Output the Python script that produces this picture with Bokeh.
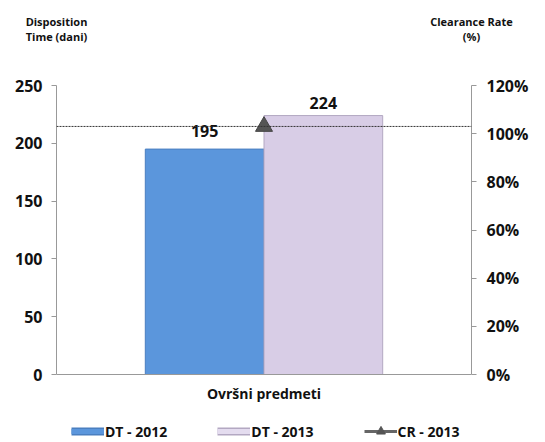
from bokeh.plotting import figure
from bokeh.models import (Range1d, LinearAxis, FixedTicker, PrintfTickFormatter,
                          Span, Legend, LegendItem, ColumnDataSource)
from bokeh.core.properties import value
from bokeh.embed import file_html
from bokeh.resources import INLINE

categories = ["Ovršni predmeti"]
dt_2012 = [195]
dt_2013 = [224]
cr_2013 = [103]
series_names = ["DT - 2012", "DT - 2013", "CR - 2013"]
title_line1 = ["Disposition", "Clearance Rate"]
title_line2 = ["Time (dani)", "(%)"]
left_ticks = [0, 50, 100, 150, 200, 250]
right_ticks = [0, 20, 40, 60, 80, 100, 120]
left_max = 250
right_max = 120

FONT = "Open Sans"
TXT = "#111111"
BLUE = "#5B96DC"
BLUE_EDGE = "#4A7FC0"
LAV = "#D8CDE6"
LAV_EDGE = "#B3A8C2"
NAN = float("nan")

# layout: frame runs from y=85 to y=442; value axes occupy 85..374 (289 px)
axis_px = 289
below_px = 68

n = len(categories)
centers = [i + 0.5 for i in range(n)]
bw = 0.286

p = figure(width=545, height=442, x_range=Range1d(0, n),
           y_range=Range1d(-left_max * below_px / axis_px, left_max),
           x_axis_location=None, output_backend="svg", toolbar_location=None,
           min_border_left=56, min_border_right=74, min_border_top=85, min_border_bottom=0)
p.extra_y_ranges = {"cr": Range1d(-right_max * below_px / axis_px, right_max)}
p.outline_line_color = None
p.xgrid.grid_line_color = None
p.ygrid.grid_line_color = None

src = ColumnDataSource(dict(xc=centers, x12=[c - bw / 2 for c in centers],
                            x13=[c + bw / 2 for c in centers],
                            dt12=dt_2012, dt13=dt_2013, cr=cr_2013, cat=categories,
                            zero=[0] * n,
                            l12=[str(v) for v in dt_2012], l13=[str(v) for v in dt_2013]))

p.vbar(x="x12", top="dt12", width=bw, source=src,
       fill_color=BLUE, line_color=BLUE_EDGE, line_width=1)
p.vbar(x="x13", top="dt13", width=bw, source=src,
       fill_color=LAV, line_color=LAV_EDGE, line_width=1)

# category baseline and label
p.add_layout(Span(location=0, dimension="width", line_color="#999999", line_width=1))
p.text(x="xc", y="zero", text="cat", source=src, text_font=value(FONT),
       text_font_style="bold", text_font_size="14px", text_align="center",
       text_baseline="middle", y_offset=19, text_color=TXT)

# clearance rate line and marker
p.add_layout(Span(location=cr_2013[0], dimension="width", y_range_name="cr",
                  line_color="#333333", line_dash="2 1", line_width=1))
p.scatter(x="xc", y="cr", source=src, y_range_name="cr", marker="triangle", size=17,
          fill_color="#555555", line_color="#444444")

# value labels
p.text(x="x12", y="dt12", text="l12", source=src,
       text_font=value(FONT), text_font_style="bold", text_font_size="16px",
       text_align="center", text_baseline="bottom", y_offset=-12, text_color=TXT)
p.text(x="x13", y="dt13", text="l13", source=src,
       text_font=value(FONT), text_font_style="bold", text_font_size="16px",
       text_align="center", text_baseline="bottom", y_offset=-7, text_color=TXT)

# value axes
ly = p.yaxis[0]
ly.ticker = FixedTicker(ticks=left_ticks)
ly.bounds = (0, left_max)
ry = LinearAxis(y_range_name="cr", ticker=FixedTicker(ticks=right_ticks),
                formatter=PrintfTickFormatter(format="%d%%"), bounds=(0, right_max))
p.add_layout(ry, "right")

for ax, so in ((ly, 9), (ry, 10)):
    ax.axis_line_color = "#999999"
    ax.major_tick_line_color = "#999999"
    ax.major_tick_in = 0
    ax.major_tick_out = 5
    ax.minor_tick_line_color = None
    ax.major_label_text_font = FONT
    ax.major_label_text_font_style = "bold"
    ax.major_label_text_font_size = "16px"
    ax.major_label_text_color = TXT
    ax.major_label_standoff = so

# axis titles above the frame (two stacked label rows)
for lines, so in ((title_line2, 42), (title_line1, -3)):
    ta = LinearAxis(ticker=FixedTicker(ticks=[0, n]),
                    major_label_overrides={0: lines[0], n: lines[1]})
    ta.axis_line_color = None
    ta.major_tick_line_color = None
    ta.minor_tick_line_color = None
    ta.major_tick_out = 0
    ta.major_tick_in = 0
    ta.major_label_text_font = FONT
    ta.major_label_text_font_style = "bold"
    ta.major_label_text_font_size = "11px"
    ta.major_label_text_color = TXT
    ta.major_label_standoff = so
    p.add_layout(ta, "above")

# legend proxies (not drawn in the plot area)
b1 = p.line(x=[NAN], y=[NAN], line_color=BLUE_EDGE, line_width=8)
b1i = p.line(x=[NAN], y=[NAN], line_color=BLUE, line_width=5)
b2 = p.line(x=[NAN], y=[NAN], line_color=LAV_EDGE, line_width=8)
b2i = p.line(x=[NAN], y=[NAN], line_color="#E4DCEF", line_width=5)
l3 = p.line(x=[NAN], y=[NAN], line_color="#666666", line_width=3)
m3 = p.scatter(x=[NAN], y=[NAN], marker="triangle", fill_color="#555555", line_color="#555555")

legend = Legend(items=[LegendItem(label=series_names[0], renderers=[b1, b1i]),
                       LegendItem(label=series_names[1], renderers=[b2, b2i]),
                       LegendItem(label=series_names[2], renderers=[l3, m3])],
                orientation="horizontal", location=(15, 0),
                glyph_width=33, glyph_height=22, label_standoff=1, spacing=50,
                padding=0, margin=0, border_line_color=None, background_fill_alpha=0,
                label_text_font=FONT, label_text_font_style="bold", label_text_font_size="14px",
                label_text_color=TXT)
p.add_layout(legend, "center")

open("out.html", "w").write(file_html(p, INLINE))
